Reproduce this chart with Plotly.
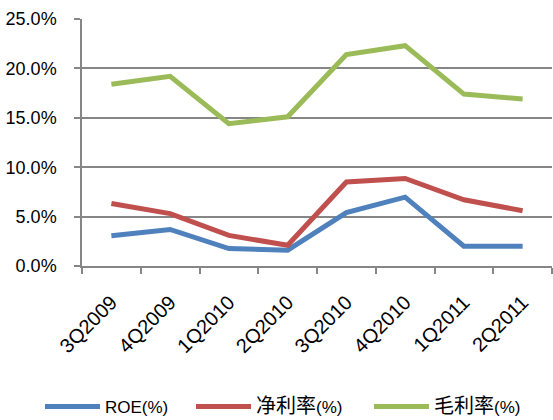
import plotly.graph_objects as go

categories = ["3Q2009", "4Q2009", "1Q2010", "2Q2010", "3Q2010", "4Q2010", "1Q2011", "2Q2011"]
roe = [0.0307, 0.037, 0.0176, 0.016, 0.054, 0.0697, 0.020, 0.020]
net_margin = [0.0633, 0.053, 0.031, 0.021, 0.085, 0.0886, 0.067, 0.056]
gross_margin = [0.184, 0.192, 0.144, 0.151, 0.214, 0.223, 0.174, 0.169]
series_names = ["ROE(%)", "净利率(%)", "毛利率(%)"]
colors = ["#4F81BD", "#C0504D", "#9BBB59"]

FONT = "Liberation Sans, Noto Sans CJK SC, sans-serif"


def legend_label(name):
    # CJK glyphs in the reference render a bit larger than the Latin text
    if name.startswith("ROE"):
        return name
    head, tail = name[:3], name[3:]
    return f'<span style="font-size:20px">{head}</span>{tail}'


legend_ids = ["legend", "legend2", "legend3"]
legend_x = [40, 191, 369]

fig = go.Figure()
for name, vals, c, lg in zip(series_names, [roe, net_margin, gross_margin], colors, legend_ids):
    fig.add_trace(go.Scatter(x=categories, y=vals, name=legend_label(name), mode="lines",
                             line=dict(color=c, width=5), legend=lg))

legend_common = dict(orientation="h", xref="container", yref="container",
                     xanchor="left", y=1 - 407 / 420, yanchor="middle",
                     font=dict(size=17), itemwidth=55, bgcolor="rgba(0,0,0,0)")
layout_legends = {}
for lg, xp in zip(legend_ids, legend_x):
    layout_legends[lg] = dict(legend_common, x=xp / 553)

fig.update_layout(
    width=553, height=420,
    margin=dict(l=82, r=1, t=19, b=154, autoexpand=False),
    paper_bgcolor="white", plot_bgcolor="white",
    font=dict(family=FONT, size=17, color="#000000"),
    showlegend=True,
    **layout_legends,
)
fig.update_xaxes(type="category", range=[-0.5, 7.5], tickson="boundaries",
                 ticks="outside", ticklen=6, tickcolor="#868686", tickwidth=1.5,
                 showline=True, linecolor="#868686", linewidth=1.5,
                 showgrid=False, tickangle=-45, tickfont=dict(size=20),
                 ticklabelstandoff=15)
fig.update_yaxes(range=[0, 0.25], dtick=0.05, tickformat=".1%",
                 ticks="outside", ticklen=6, tickcolor="#868686", tickwidth=1.5,
                 showline=True, linecolor="#868686", linewidth=1.5,
                 showgrid=True, gridcolor="#868686", gridwidth=1.5,
                 zeroline=False, ticklabelstandoff=14, tickfont=dict(size=18))

fig.write_html("out.html", config={"displayModeBar": False},
               post_script="document.body.style.margin='0';document.body.style.padding='0';")
